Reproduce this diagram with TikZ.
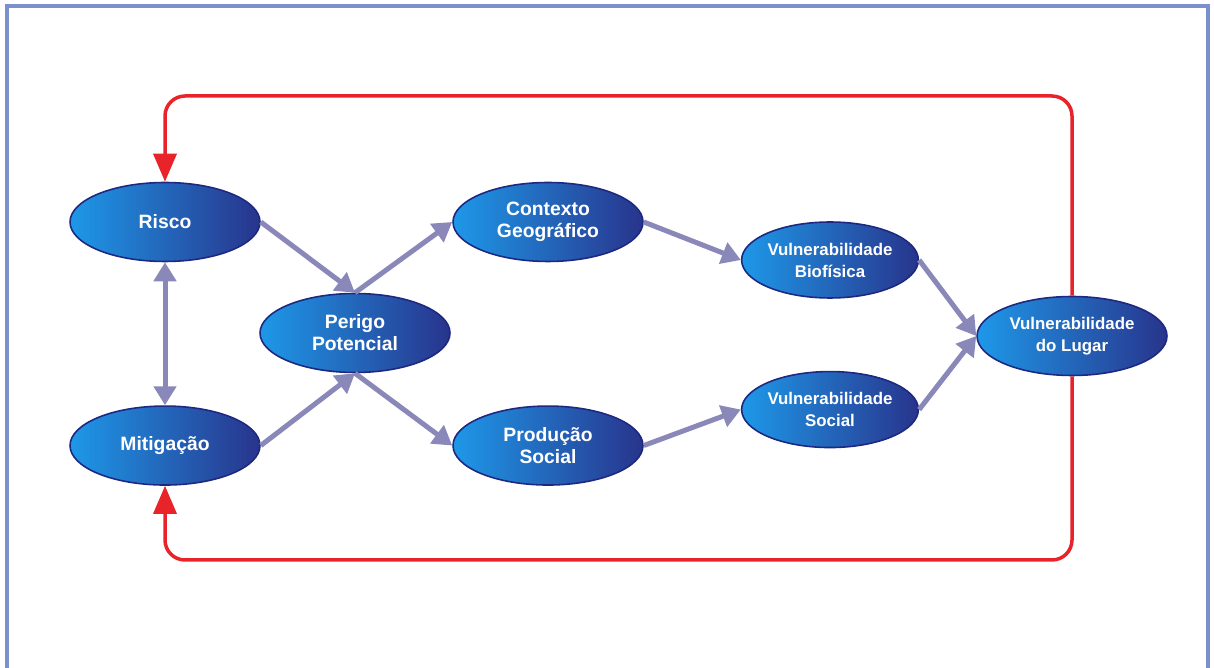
\documentclass[tikz,border=0pt]{standalone}
\usepackage{fontspec}
\setmainfont{Liberation Sans}
\usepackage{tikz}
\usetikzlibrary{
  arrows.meta, shapes.geometric, positioning, calc
}
\usepackage{xcolor}
\definecolor{blobleft}{RGB}{30,152,232}
\definecolor{blobmid}{RGB}{24,112,208}
\definecolor{blobright}{RGB}{40,52,140}
\definecolor{blobedge}{RGB}{30,40,128}
\definecolor{flowgrey}{RGB}{138,136,184}
\definecolor{loopred}{RGB}{232,36,42}
\definecolor{framblue}{RGB}{122,145,205}
\tikzset{
  concept/.style={
    ellipse, draw=blobedge, line width=0.9pt,
    left color=blobleft, middle color=blobmid, right color=blobright,
    minimum width=3.8cm, minimum height=1.58cm, inner sep=0pt,
    align=center, text=white,
    font=\fontsize{11}{12.5}\selectfont\bfseries
  },
  vconcept/.style={
    concept, minimum width=3.45cm, minimum height=1.52cm,
    font=\fontsize{9.6}{12.5}\selectfont\bfseries
  },
  flow/.style={-{Triangle[length=0.38cm,width=0.44cm]}, line width=0.1cm, draw=flowgrey},
  dflow/.style={{Triangle[length=0.38cm,width=0.44cm]}-{Triangle[length=0.38cm,width=0.44cm]}, line width=0.1cm, draw=flowgrey},
  feedback/.style={-{Triangle[length=0.56cm,width=0.46cm]}, line width=0.07cm, draw=loopred, rounded corners=0.4cm},
  frame/.style={line width=0.08cm, draw=framblue}
}

\begin{document}
\begin{tikzpicture}[x=0.02cm, y=-0.02cm]
  \useasboundingbox (0,0) rectangle (1214,668);
  \draw[frame] (7,668) -- (7,6) -- (1208,6) -- (1208,668);

  % left column
  \node[concept] (risco) at (165,222) {Risco};
  \node[concept, below=2.86cm of risco] (mitigacao) {Mitigação};
  \node[concept] (perigo) at (355,333) {Perigo\\Potencial};

  % middle
  \node[concept] (contexto) at (548,222) {Contexto\\Geográfico};
  \node[concept, below=2.86cm of contexto] (producao) {Produção\\Social};
  \node[vconcept] (vbio) at (830,260) {Vulnerabilidade\\Biofísica};
  \node[vconcept, below=1.44cm of vbio] (vsoc) {Vulnerabilidade\\Social};
  \node[vconcept, minimum width=3.8cm, minimum height=1.58cm] (lugar) at (1072,336)
    {Vulnerabilidade\\do Lugar};

  \coordinate (ceiling) at (0,96);
  \coordinate (floor) at (0,560);

  \draw[dflow] (risco.south) -- (mitigacao.north);
  \draw[flow] (risco.east) -- (perigo.north);
  \draw[flow] (mitigacao.east) -- (perigo.south);
  \draw[flow] (perigo.north) -- (contexto.west);
  \draw[flow] (perigo.south) -- (producao.west);
  \draw[flow] (contexto.east) -- (vbio.west);
  \draw[flow] (producao.east) -- (vsoc.west);
  \draw[flow] (vbio.east) -- (lugar.west);
  \draw[flow] (vsoc.east) -- (lugar.west);

  % feedback loop
  \draw[feedback] (lugar.north) -- (lugar.north |- ceiling) -| (risco.north);
  \draw[feedback] (lugar.south) -- (lugar.south |- floor) -| (mitigacao.south);
\end{tikzpicture}
\end{document}
